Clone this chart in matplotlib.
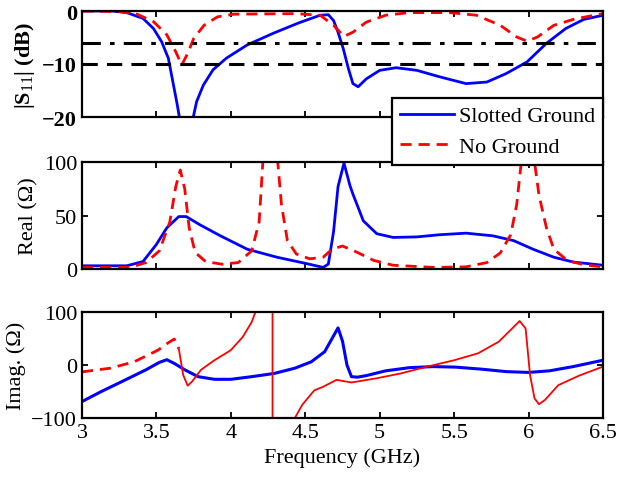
import matplotlib
matplotlib.use("Agg")
import matplotlib.pyplot as plt

plt.rcParams['font.family'] = ['Liberation Serif', 'DejaVu Serif']
plt.rcParams['mathtext.fontset'] = 'custom'
plt.rcParams['mathtext.rm'] = 'Liberation Serif'
plt.rcParams['mathtext.it'] = 'Liberation Serif'
plt.rcParams['mathtext.bf'] = 'Liberation Serif:bold'

# |S11| (dB)
s11_slot_f = [3.0, 3.2, 3.30, 3.41, 3.48, 3.535, 3.58, 3.61, 3.64, 3.66, 3.74, 3.77, 3.815,
              3.88, 3.97, 4.11, 4.285, 4.46, 4.60, 4.655, 4.69, 4.72, 4.755, 4.79, 4.82,
              4.855, 4.91, 5.0, 5.11, 5.25, 5.40, 5.58, 5.72, 5.85, 5.99, 6.12, 6.25,
              6.37, 6.5]
s11_slot = [0, 0, -0.3, -1.4, -3.3, -5.8, -8.9, -13.3, -17.7, -21, -21, -17.1, -14,
            -11.1, -8.9, -6.4, -4.2, -2.2, -0.8, -0.7, -1.8, -4.0, -7.1, -10.9, -13.7,
            -14.3, -12.8, -11.2, -10.7, -11.2, -12.4, -13.7, -13.4, -11.8, -9.6, -6.1, -3.3,
            -1.6, -0.8]
s11_nog_f = [3.0, 3.25, 3.37, 3.48, 3.57, 3.63, 3.67, 3.71, 3.75, 3.82, 3.91, 4.02, 4.43,
             4.60, 4.69, 4.76, 4.82, 4.91, 5.04, 5.20, 5.47, 5.65, 5.81, 5.92, 5.99,
             6.06, 6.17, 6.31, 6.5]
s11_nog = [0, -0.1, -0.6, -2, -4.5, -7.7, -10.2, -8, -5.2, -2.7, -1.1, -0.6, -0.5,
           -0.8, -2.7, -4.8, -4.0, -2.1, -0.8, -0.3, -0.3, -0.8, -2.7, -4.9, -5.7,
           -4.9, -2.7, -1.5, -0.5]

# Real part (ohm)
re_slot_f = [3.0, 3.30, 3.41, 3.50, 3.57, 3.65, 3.70, 3.79, 3.93, 4.11, 4.31, 4.51, 4.62,
             4.655, 4.69, 4.72, 4.76, 4.80, 4.82, 4.89, 4.98, 5.09, 5.25, 5.40, 5.58,
             5.76, 5.90, 6.03, 6.17, 6.30, 6.5]
re_slot = [3, 3, 7, 23, 38.5, 49, 49, 41.5, 31, 18.5, 11, 5, 1.5,
           4.6, 35, 77, 99, 78, 70, 45, 33, 29.5, 30, 32, 33.5,
           31, 26.5, 18.5, 11, 6.5, 3.5]
re_nog_f = [3.0, 3.32, 3.43, 3.52, 3.59, 3.63, 3.66, 3.69, 3.72, 3.76, 3.83, 3.94, 4.05,
            4.14, 4.19, 4.215, 4.265, 4.315, 4.34, 4.38, 4.44, 4.53, 4.62, 4.68, 4.75,
            4.85, 4.96, 5.09, 5.36, 5.58, 5.72, 5.81, 5.88, 5.92, 5.95, 5.995, 6.04,
            6.07, 6.12, 6.17, 6.26, 6.37, 6.5]
re_nog = [1.5, 1.5, 6, 17, 44, 77, 92.5, 75, 38.5, 15.5, 7, 4.5, 6,
          17, 44, 100, 250, 100, 60, 26.5, 14, 9.5, 11, 18.5, 21.5,
          15.5, 8, 3.5, 1.5, 2, 6, 15, 32, 60, 98.5, 160, 100,
          69, 38.5, 18.5, 8, 4, 2]

# Imaginary part (ohm)
im_slot_f = [3.0, 3.13, 3.27, 3.43, 3.52, 3.57, 3.62, 3.69, 3.78, 3.89, 4.0, 4.14, 4.29,
             4.43, 4.54, 4.63, 4.68, 4.72, 4.75, 4.78, 4.81, 4.85, 4.91, 5.04, 5.20,
             5.36, 5.51, 5.69, 5.85, 6.0, 6.14, 6.30, 6.5]
im_slot = [-69, -50, -31, -9, 5, 10, 3, -9, -22, -27, -27, -22, -16,
           -6, 6, 25, 50, 70, 45, 0, -22, -23, -20, -11, -5,
           -3, -4, -8, -12.5, -14, -11, -3, 9]
im_nog_f = [3.0, 3.19, 3.35, 3.51, 3.58, 3.62, 3.65, 3.68, 3.71, 3.74, 3.80, 3.89, 4.0,
            4.08, 4.14, 4.165, 4.22, 4.279, 4.281, 4.35, 4.43, 4.48, 4.56, 4.62, 4.71,
            4.81, 4.98, 5.14, 5.32, 5.50, 5.66, 5.80, 5.89, 5.94, 5.98, 6.01, 6.04,
            6.07, 6.11, 6.20, 6.34, 6.5]
im_nog = [-13, -6, 6, 28, 42, 49, 31, -19, -39, -31, -9, 9, 28,
          53, 81, 100, 220, 3000, -3000, -250, -100, -75, -48, -41, -28,
          -33, -25, -16, -3, 9, 22, 44, 69, 83, 69, -19, -63,
          -74, -66, -38, -20, -3]

blue = '#0000ff'
red = '#ff0000'

fig = plt.figure(figsize=(6.19, 4.81), dpi=100)
left, width = 82 / 619, 521 / 619
ax1 = fig.add_axes([left, 1 - 118 / 481, width, 106 / 481])
ax2 = fig.add_axes([left, 1 - 270 / 481, width, 107 / 481])
ax3 = fig.add_axes([left, 1 - 419 / 481, width, 106 / 481])

l1, = ax1.plot(s11_slot_f, s11_slot, color=blue, lw=2, label='Slotted Ground')
l2, = ax1.plot(s11_nog_f, s11_nog, color=red, lw=2, ls=(0, (4, 2.5)), label='No Ground')
ax1.axhline(-6, color='black', lw=2.2, ls=(0, (6, 3, 1.5, 3)))
ax1.axhline(-10, color='black', lw=2.2, ls=(0, (5, 3)))
ax1.set_ylim(-20, 0)
ax1.set_yticks([-20, -10, 0])
ax1.set_ylabel(r'|S$_{11}$| (dB)', fontsize=16, fontweight='bold')

ax2.plot(re_slot_f, re_slot, color=blue, lw=2)
ax2.plot(re_nog_f, re_nog, color=red, lw=2, ls=(0, (4, 2.5)))
ax2.set_ylim(0, 100)
ax2.set_yticks([0, 50, 100])
ax2.set_ylabel('Real (Ω)', fontsize=16)

ax3.plot(im_slot_f, im_slot, color=blue, lw=2.2)
ax3.plot(im_nog_f[:7], im_nog[:7], color=red, lw=2, ls=(0, (4, 2.5)))
ax3.plot(im_nog_f[6:], im_nog[6:], color=red, lw=1.3)
ax3.set_ylim(-100, 100)
ax3.set_yticks([-100, 0, 100])
ax3.set_ylabel('Imag. (Ω)', fontsize=16)
ax3.set_xlabel('Frequency (GHz)', fontsize=16)

for ax in (ax1, ax2, ax3):
    ax.set_xlim(3, 6.5)
    ax.set_xticks([3, 3.5, 4, 4.5, 5, 5.5, 6, 6.5])
    ax.tick_params(direction='in', top=True, right=True, labelsize=16, width=1.3, length=4)
    for sp in ax.spines.values():
        sp.set_linewidth(1.6)
ax1.tick_params(labelbottom=False)
ax2.tick_params(labelbottom=False)
ax3.set_xticklabels(['3', '3.5', '4', '4.5', '5', '5.5', '6', '6.5'])
for lab in ax1.get_yticklabels():
    lab.set_fontweight('bold')

leg = fig.legend(handles=[l1, l2], loc='upper right',
                 bbox_to_anchor=(603 / 619, 1 - 99 / 481),
                 fontsize=16, frameon=True, fancybox=False, framealpha=1,
                 edgecolor='black', borderpad=0.35, labelspacing=0.45, handlelength=2.4,
                 handletextpad=0.25, borderaxespad=0)
leg.get_frame().set_linewidth(1.6)
leg.set_zorder(10)

fig.savefig('out.png', dpi=100)
